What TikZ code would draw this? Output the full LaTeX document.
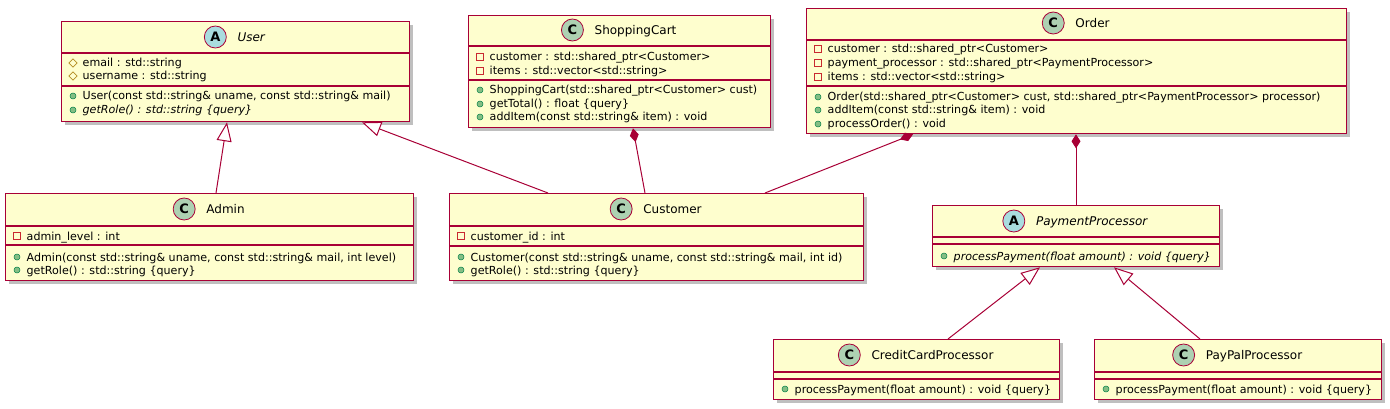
\documentclass[tikz,border=0pt]{standalone}
\usepackage{fontspec}
\setmainfont{DejaVu Sans}
\usetikzlibrary{arrows.meta,shapes.geometric,shadows,calc}
\definecolor{umlred}{HTML}{A80036}
\definecolor{umlfill}{HTML}{FEFECE}
\definecolor{iconC}{HTML}{ADD1B2}
\definecolor{iconA}{HTML}{A9DCDF}
\definecolor{privred}{HTML}{C82930}
\definecolor{protgold}{HTML}{B38D22}
\definecolor{pubgreen}{HTML}{84BE84}
\definecolor{pubdark}{HTML}{038048}
\tikzset{
  cls/.style={draw=umlred, fill=umlfill, line width=1.3pt, inner sep=0pt, anchor=north west,
    drop shadow={shadow xshift=3.5pt, shadow yshift=-3.5pt, opacity=0.25, fill=black}},
  divider/.style={draw=umlred, line width=1.2pt},
  cname/.style={inner sep=0pt, font=\fontsize{12}{14}\selectfont},
  mem/.style={inner sep=0pt, anchor=base west, font=\fontsize{11.1}{13}\selectfont},
  icon/.style={circle, draw=umlred, line width=0.8pt, minimum size=22pt, inner sep=0pt,
    font=\bfseries\fontsize{13}{13}\selectfont},
  privicon/.style={rectangle, draw=privred, line width=0.8pt, minimum size=6.5pt, inner sep=0pt},
  proticon/.style={diamond, draw=protgold, line width=0.8pt, minimum size=8.5pt, inner sep=0pt},
  pubicon/.style={circle, draw=pubdark, fill=pubgreen, line width=0.5pt, minimum size=6pt, inner sep=0pt},
  conn/.style={draw=umlred, line width=1pt},
  ext/.style={conn, -{Triangle[length=19pt, width=15pt, fill=white]}},
  comp/.style={conn, {Diamond[length=14pt, width=9pt]}-},
}
\newcommand\umlclass[7]{%
  \node[cls, minimum width={(#4-#2)*1pt}, minimum height={(#5-#3)*1pt}] (#1) at (#2,#3) {};
  \draw[divider] (#2,#6) -- (#4,#6);
  \draw[divider] (#2,#7) -- (#4,#7);
}
\newcommand\umlhead[7]{%
  \node[cname, anchor=base] (#1-name) at ({(#2+#3)/2+16.5},{#4+4.5}) {#7};
  \node[icon, fill=#5] (#1-icon) at ($(#1-name.base west)+(-22pt,4.5pt)$) {#6};
}
\newcommand\fpriv[3]{\node[privicon] at ({#1+12},#2) {}; \node[mem] at ({#1+21.5},{#2+4}) {#3};}
\newcommand\fprot[3]{\node[proticon] at ({#1+12},#2) {}; \node[mem] at ({#1+21.5},{#2+4}) {#3};}
\newcommand\mpub[3]{\node[pubicon] at ({#1+12},#2) {}; \node[mem] at ({#1+21.5},{#2+4}) {#3};}
\begin{document}
\begin{tikzpicture}[x=1pt, y=-1pt]
\useasboundingbox (0,0) rectangle (1390,409);
% User
\umlclass{user}{61}{21}{409}{121}{53}{86}
\umlhead{user}{61}{409}{37}{iconA}{A}{\textit{User}}
\fprot{61}{63}{email : std::string}
\fprot{61}{76}{username : std::string}
\mpub{61}{96}{User(const std::string\& uname, const std::string\& mail)}
\mpub{61}{110}{\textit{getRole() : std::string \{query\}}}
% ShoppingCart
\umlclass{cart}{468}{15}{770}{127}{46}{80}
\umlhead{cart}{468}{770}{30}{iconC}{C}{ShoppingCart}
\fpriv{468}{57}{customer : std::shared\_ptr<Customer>}
\fpriv{468}{71}{items : std::vector<std::string>}
\mpub{468}{90}{ShoppingCart(std::shared\_ptr<Customer> cust)}
\mpub{468}{104}{getTotal() : float \{query\}}
\mpub{468}{117}{addItem(const std::string\& item) : void}
% Order
\umlclass{order}{806}{8}{1346}{133}{40}{86}
\umlhead{order}{806}{1346}{23}{iconC}{C}{Order}
\fpriv{806}{49}{customer : std::shared\_ptr<Customer>}
\fpriv{806}{63}{payment\_processor : std::shared\_ptr<PaymentProcessor>}
\fpriv{806}{77}{items : std::vector<std::string>}
\mpub{806}{97}{Order(std::shared\_ptr<Customer> cust, std::shared\_ptr<PaymentProcessor> processor)}
\mpub{806}{110}{addItem(const std::string\& item) : void}
\mpub{806}{124}{processOrder() : void}
% Admin
\umlclass{admin}{5}{193}{413}{280}{226}{245}
\umlhead{admin}{5}{413}{209}{iconC}{C}{Admin}
\fpriv{5}{236}{admin\_level : int}
\mpub{5}{257}{Admin(const std::string\& uname, const std::string\& mail, int level)}
\mpub{5}{270}{getRole() : std::string \{query\}}
% Customer
\umlclass{cust}{449}{193}{863}{280}{226}{246}
\umlhead{cust}{449}{863}{209}{iconC}{C}{Customer}
\fpriv{449}{236}{customer\_id : int}
\mpub{449}{257}{Customer(const std::string\& uname, const std::string\& mail, int id)}
\mpub{449}{270}{getRole() : std::string \{query\}}
% PaymentProcessor
\umlclass{pp}{932}{205}{1219}{266}{237}{244}
\umlhead{pp}{932}{1219}{221}{iconA}{A}{\textit{PaymentProcessor}}
\mpub{932}{256}{\textit{processPayment(float amount) : void \{query\}}}
% CreditCardProcessor
\umlclass{cc}{773}{339}{1059}{399}{372}{379}
\umlhead{cc}{773}{1059}{355}{iconC}{C}{CreditCardProcessor}
\mpub{773}{389}{processPayment(float amount) : void \{query\}}
% PayPalProcessor
\umlclass{paypal}{1094}{339}{1381}{399}{372}{379}
\umlhead{paypal}{1094}{1381}{355}{iconC}{C}{PayPalProcessor}
\mpub{1094}{389}{processPayment(float amount) : void \{query\}}
% connectors
\draw[ext] ([xshift=211pt]admin.north west) -- ([xshift=166pt]user.south west);
\draw[ext] ([xshift=99pt]cust.north west) -- ([xshift=301pt]user.south west);
\draw[comp] ([xshift=165pt]cart.south west) -- ([xshift=196pt]cust.north west);
\draw[comp] ([xshift=107pt]order.south west) -- ([xshift=316pt]cust.north west);
\draw[comp] ([xshift=270pt]order.south west) -- ([xshift=144pt]pp.north west);
\draw[ext] ([xshift=175pt]cc.north west) -- ([xshift=108pt]pp.south west);
\draw[ext] ([xshift=106pt]paypal.north west) -- ([xshift=182pt]pp.south west);
\end{tikzpicture}
\end{document}
